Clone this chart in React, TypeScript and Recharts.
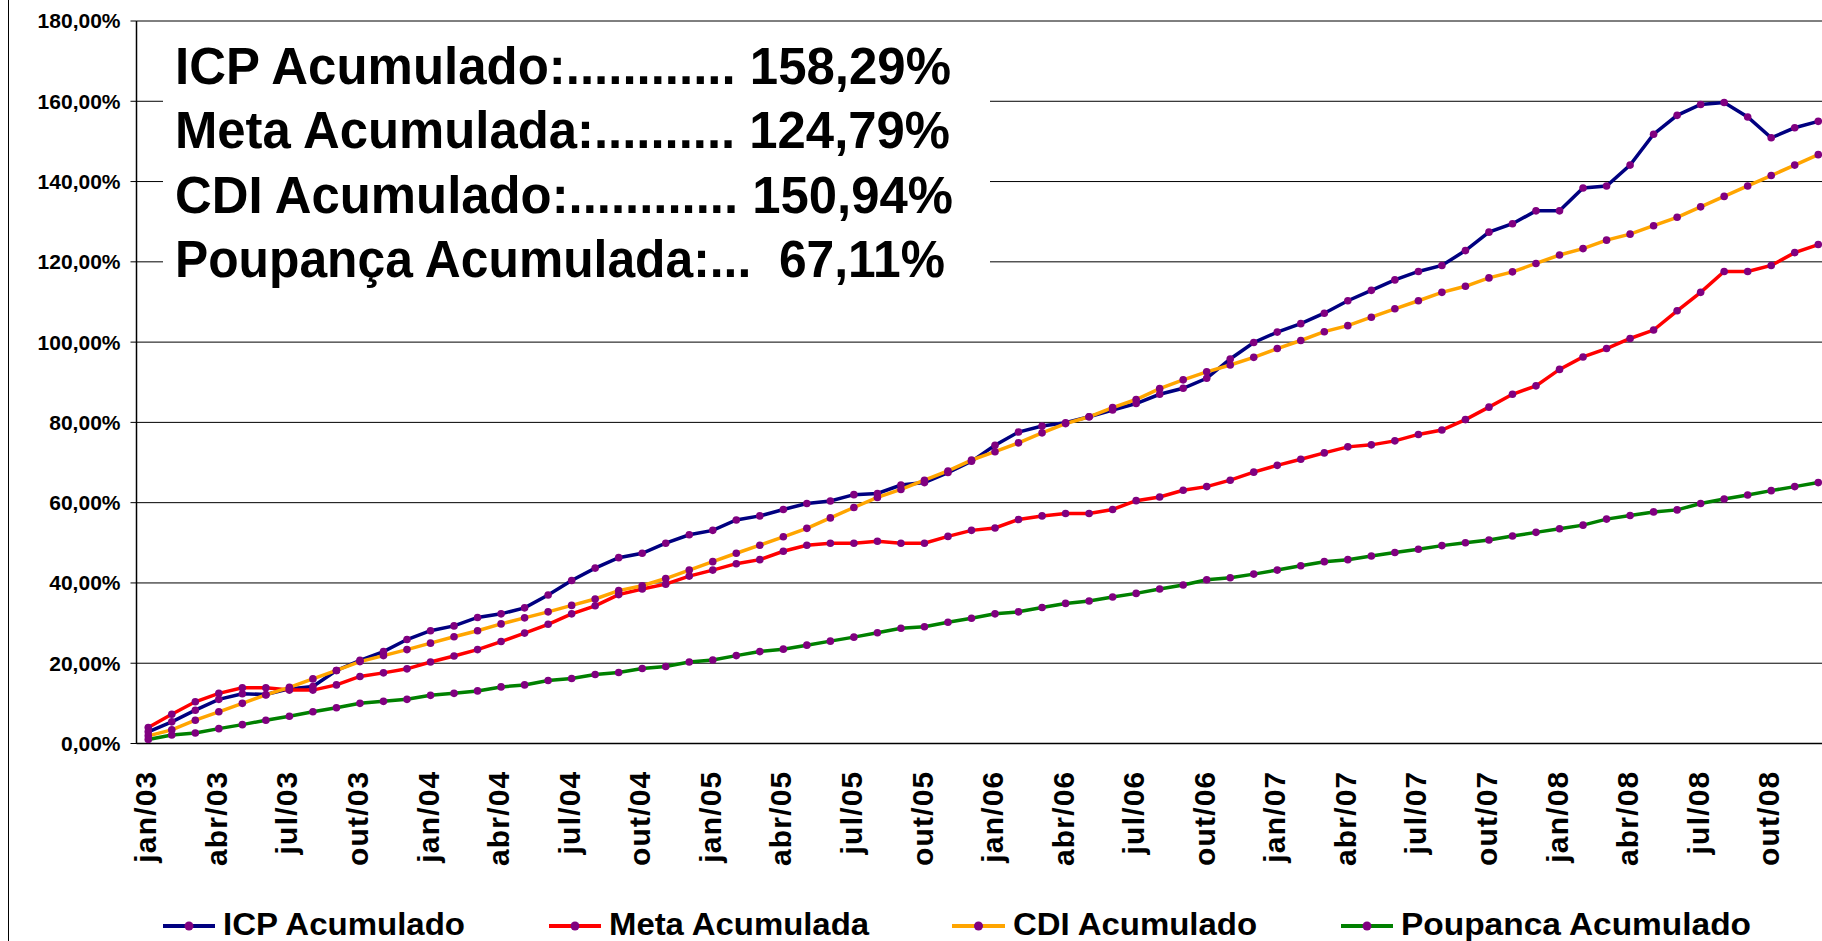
import React from 'react';
import { LineChart, Line, XAxis, YAxis, CartesianGrid, Legend } from 'recharts';

const categories: string[] = [
  'jan/03','fev/03','mar/03','abr/03','mai/03','jun/03','jul/03','ago/03','set/03','out/03','nov/03','dez/03',
  'jan/04','fev/04','mar/04','abr/04','mai/04','jun/04','jul/04','ago/04','set/04','out/04','nov/04','dez/04',
  'jan/05','fev/05','mar/05','abr/05','mai/05','jun/05','jul/05','ago/05','set/05','out/05','nov/05','dez/05',
  'jan/06','fev/06','mar/06','abr/06','mai/06','jun/06','jul/06','ago/06','set/06','out/06','nov/06','dez/06',
  'jan/07','fev/07','mar/07','abr/07','mai/07','jun/07','jul/07','ago/07','set/07','out/07','nov/07','dez/07',
  'jan/08','fev/08','mar/08','abr/08','mai/08','jun/08','jul/08','ago/08','set/08','out/08','nov/08','dez/08',
];

const icpAcumulado: number[] = [
  2.9, 5.4, 8.3, 11.0, 12.4, 12.2, 13.6, 14.2, 18.2, 20.7, 22.9, 25.9,
  28.1, 29.3, 31.4, 32.3, 33.8, 37.0, 40.6, 43.7, 46.3, 47.4, 49.9, 52.0,
  53.1, 55.7, 56.7, 58.3, 59.8, 60.4, 62.0, 62.3, 64.4, 65.0, 67.5, 70.3,
  74.3, 77.6, 79.1, 79.9, 81.4, 83.1, 84.7, 87.0, 88.5, 91.0, 95.8, 99.9,
  102.5, 104.6, 107.2, 110.3, 112.9, 115.5, 117.6, 119.1, 122.8, 127.4, 129.5, 132.7,
  132.7, 138.4, 138.9, 144.1, 151.8, 156.5, 159.2, 159.7, 156.1, 150.9, 153.4, 155.0,
];

const metaAcumulada: number[] = [
  4.0, 7.3, 10.4, 12.5, 13.9, 13.9, 13.3, 13.3, 14.6, 16.7, 17.6, 18.6,
  20.3, 21.8, 23.4, 25.4, 27.5, 29.7, 32.3, 34.3, 37.1, 38.5, 39.7, 41.7,
  43.2, 44.8, 45.8, 47.9, 49.4, 49.9, 49.9, 50.4, 49.9, 49.9, 51.6, 53.1,
  53.7, 55.8, 56.7, 57.3, 57.3, 58.3, 60.5, 61.4, 63.1, 64.0, 65.6, 67.6,
  69.3, 70.8, 72.4, 73.9, 74.4, 75.4, 77.0, 78.1, 80.7, 83.8, 87.0, 89.1,
  93.2, 96.3, 98.4, 100.9, 103.0, 107.8, 112.4, 117.6, 117.6, 119.1, 122.3, 124.3,
];

const cdiAcumulado: number[] = [
  1.9, 3.4, 5.8, 7.9, 10.0, 12.1, 14.0, 16.1, 18.2, 20.4, 21.9, 23.4,
  25.0, 26.6, 28.1, 29.8, 31.3, 32.8, 34.4, 36.0, 38.1, 39.3, 41.1, 43.2,
  45.3, 47.4, 49.4, 51.5, 53.6, 56.2, 58.8, 61.3, 63.3, 65.6, 67.9, 70.6,
  72.7, 74.9, 77.4, 79.7, 81.4, 83.7, 85.7, 88.4, 90.6, 92.6, 94.3, 96.2,
  98.4, 100.4, 102.6, 104.1, 106.2, 108.3, 110.3, 112.4, 113.9, 116.0, 117.5, 119.6,
  121.7, 123.3, 125.4, 126.9, 129.0, 131.1, 133.7, 136.3, 138.9, 141.5, 144.1, 146.7,
];

const poupancaAcumulado: number[] = [
  1.0, 2.1, 2.6, 3.7, 4.7, 5.8, 6.8, 7.9, 8.9, 10.0, 10.5, 11.0,
  12.0, 12.5, 13.1, 14.1, 14.6, 15.7, 16.2, 17.2, 17.7, 18.7, 19.2, 20.3,
  20.8, 21.9, 22.9, 23.5, 24.5, 25.5, 26.5, 27.6, 28.7, 29.1, 30.2, 31.2,
  32.3, 32.8, 33.9, 34.9, 35.5, 36.5, 37.4, 38.5, 39.5, 40.8, 41.3, 42.2,
  43.2, 44.3, 45.3, 45.8, 46.7, 47.6, 48.4, 49.3, 50.0, 50.7, 51.7, 52.6,
  53.5, 54.4, 55.9, 56.8, 57.7, 58.2, 59.8, 60.9, 61.9, 63.0, 64.0, 65.0,
];

const yTicks: number[] = [0, 20, 40, 60, 80, 100, 120, 140, 160, 180];

const annotationLines: string[] = [
  'ICP Acumulado:............ 158,29%',
  'Meta Acumulada:.......... 124,79%',
  'CDI Acumulado:............ 150,94%',
  'Poupança Acumulada:...  67,11%',
];

const series = [
  { key: 'icp', name: 'ICP Acumulado', color: '#000080', values: icpAcumulado },
  { key: 'meta', name: 'Meta Acumulada', color: '#FF0000', values: metaAcumulada },
  { key: 'cdi', name: 'CDI Acumulado', color: '#FFA500', values: cdiAcumulado },
  { key: 'poup', name: 'Poupanca Acumulado', color: '#008000', values: poupancaAcumulado },
];

const data = categories.map((label, i) => {
  const row: Record<string, number | string> = { x: i + 0.5, label };
  series.forEach((s) => {
    row[s.key] = s.values[i];
  });
  return row;
});

const labelTicks = categories.map((_, i) => i).filter((i) => i % 3 === 0).map((i) => i + 0.5);
const boundaryTicks = categories.map((_, i) => i).filter((i) => i % 3 === 0).concat([categories.length]);

const FONT = '"Liberation Sans", Arial, Helvetica, sans-serif';

const fmtPct = (v: number) => v.toFixed(2).replace('.', ',') + '%';

function MonthTick(props: any) {
  const { x, y, payload } = props;
  const label = categories[Math.floor(payload.value)];
  return (
    <text
      x={x}
      y={y}
      dy="0.27em"
      transform={`rotate(-90 ${x} ${y})`}
      textAnchor="end"
      fontSize={30}
      fontWeight="bold"
      letterSpacing={1.2}
      fill="#000"
      fontFamily={FONT}
    >
      {label}
    </text>
  );
}

const legendLayout = [
  { lineX1: 163, lineX2: 215, textX: 223, textEnd: 465 },
  { lineX1: 549, lineX2: 601, textX: 609, textEnd: 869 },
  { lineX1: 952, lineX2: 1005, textX: 1013, textEnd: 1257 },
  { lineX1: 1341, lineX2: 1393, textX: 1401, textEnd: 1751 },
];

function LegendContent() {
  return (
    <svg width={1822} height={46} style={{ display: 'block' }}>
      {series.map((s, i) => {
        const L = legendLayout[i];
        return (
          <g key={s.key}>
            <line x1={L.lineX1} x2={L.lineX2} y1={31} y2={31} stroke={s.color} strokeWidth={4} />
            <circle cx={(L.lineX1 + L.lineX2) / 2} cy={31} r={4.5} fill="#800080" />
            <text
              x={L.textX}
              y={40}
              fontSize={32}
              fontWeight="bold"
              fontFamily={FONT}
              fill="#000"
              textLength={L.textEnd - L.textX}
              lengthAdjust="spacingAndGlyphs"
            >
              {s.name}
            </text>
          </g>
        );
      })}
    </svg>
  );
}

const annotationLayout = [
  { y: 84, end: 951 },
  { y: 148, end: 950 },
  { y: 213, end: 953 },
  { y: 277, end: 945 },
];

export default function App() {
  return (
    <div
      style={{
        position: 'fixed',
        left: 0,
        top: 0,
        width: 1822,
        height: 941,
        overflow: 'hidden',
        background: '#fff',
      }}
    >
      <div style={{ position: 'absolute', left: 8, top: 0, width: 1, height: 941, background: '#000' }} />
      <div style={{ position: 'absolute', left: 0, top: 0 }}>
        <LineChart
          width={1840}
          height={941}
          data={data}
          margin={{ top: 21, right: 10, bottom: 0, left: 36.5 }}
        >
          <CartesianGrid xAxisId="axisA" horizontal vertical={false} stroke="#000" strokeWidth={1} />
          <XAxis
            xAxisId="axisA"
            type="number"
            dataKey="x"
            domain={[0, categories.length]}
            ticks={boundaryTicks}
            interval={0}
            tick={false}
            tickSize={10}
            height={1}
            axisLine={{ stroke: '#000', strokeWidth: 1.5 }}
            tickLine={{ stroke: '#000', strokeWidth: 1.5 }}
            allowDataOverflow
          />
          <XAxis
            xAxisId="axisB"
            type="number"
            dataKey="x"
            domain={[0, categories.length]}
            ticks={labelTicks}
            interval={0}
            tick={<MonthTick />}
            tickLine={false}
            axisLine={false}
            tickSize={0}
            tickMargin={26}
            height={150.5}
            allowDataOverflow
          />
          <YAxis
            domain={[0, 180]}
            ticks={yTicks}
            interval={0}
            tickFormatter={fmtPct}
            width={100}
            tickSize={6}
            tickMargin={10}
            axisLine={{ stroke: '#000', strokeWidth: 1.5 }}
            tickLine={{ stroke: '#000' }}
            tick={{ fontSize: 21, fontWeight: 'bold', fill: '#000', fontFamily: FONT }}
            allowDataOverflow
          />
          {series.map((s) => (
            <Line
              key={s.key}
              xAxisId="axisA"
              type="linear"
              dataKey={s.key}
              name={s.name}
              stroke={s.color}
              strokeWidth={3.5}
              dot={{ r: 3.8, fill: '#800080', stroke: '#800080', strokeWidth: 0 }}
              activeDot={false}
              isAnimationActive={false}
            />
          ))}
          <Legend
            verticalAlign="bottom"
            align="left"
            content={() => <LegendContent />}
            wrapperStyle={{ left: 0, bottom: 0, width: 1822, height: 46 }}
          />
        </LineChart>
      </div>
      <svg
        width={1822}
        height={941}
        style={{ position: 'absolute', left: 0, top: 0, pointerEvents: 'none' }}
      >
        <rect x={163} y={24} width={827} height={270} fill="#fff" />
        {annotationLines.map((t, i) => (
          <text
            key={i}
            x={175}
            y={annotationLayout[i].y}
            fontSize={51}
            fontWeight="bold"
            fontFamily={FONT}
            fill="#000"
            textLength={annotationLayout[i].end - 175}
            lengthAdjust="spacingAndGlyphs"
            style={{ whiteSpace: 'pre' }}
          >
            {t}
          </text>
        ))}
      </svg>
    </div>
  );
}
